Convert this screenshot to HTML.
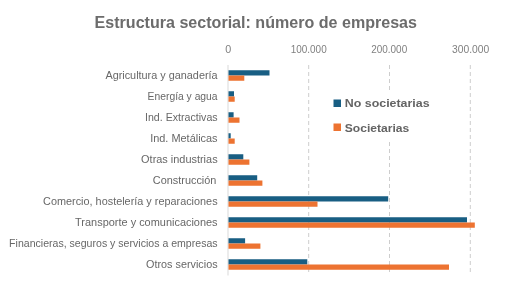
<!DOCTYPE html>
<html><head><meta charset="utf-8"><style>
html,body{margin:0;padding:0;background:#fff;}
body{width:513px;height:300px;overflow:hidden;}
svg{display:block;filter:blur(0.3px);}
text{font-family:"Liberation Sans",sans-serif;}
.cat{font-size:10.8px;fill:#676767;}
.ax{font-size:10.5px;fill:#808080;}
.leg{font-size:11.8px;font-weight:bold;fill:#646464;}
.title{font-size:15.6px;font-weight:bold;fill:#6c6c6c;}
</style></head><body>
<svg width="513" height="300" viewBox="0 0 513 300">
<line x1="308.7" y1="65.0" x2="308.7" y2="275" stroke="#cdcdcd" stroke-width="1" stroke-dasharray="4 3"/>
<line x1="389.5" y1="65.0" x2="389.5" y2="275" stroke="#cdcdcd" stroke-width="1" stroke-dasharray="4 3"/>
<line x1="470.3" y1="65.0" x2="470.3" y2="275" stroke="#cdcdcd" stroke-width="1" stroke-dasharray="4 3"/>
<line x1="228" y1="65.0" x2="228" y2="275.5" stroke="#d9d9d9" stroke-width="1"/>
<rect x="228.5" y="70.25" width="41.00" height="5.25" fill="#185e83"/>
<rect x="228.5" y="75.50" width="15.80" height="5.25" fill="#ed7331"/>
<text x="105.40" y="79.00" textLength="112.2" lengthAdjust="spacingAndGlyphs" class="cat">Agricultura y ganadería</text>
<rect x="228.5" y="91.25" width="5.50" height="5.25" fill="#185e83"/>
<rect x="228.5" y="96.50" width="6.20" height="5.25" fill="#ed7331"/>
<text x="147.60" y="100.00" textLength="70" lengthAdjust="spacingAndGlyphs" class="cat">Energía y agua</text>
<rect x="228.5" y="112.25" width="5.10" height="5.25" fill="#185e83"/>
<rect x="228.5" y="117.50" width="11.00" height="5.25" fill="#ed7331"/>
<text x="145.00" y="121.00" textLength="72.6" lengthAdjust="spacingAndGlyphs" class="cat">Ind. Extractivas</text>
<rect x="228.5" y="133.25" width="2.20" height="5.25" fill="#185e83"/>
<rect x="228.5" y="138.50" width="6.20" height="5.25" fill="#ed7331"/>
<text x="150.20" y="142.00" textLength="67.4" lengthAdjust="spacingAndGlyphs" class="cat">Ind. Metálicas</text>
<rect x="228.5" y="154.25" width="14.80" height="5.25" fill="#185e83"/>
<rect x="228.5" y="159.50" width="20.90" height="5.25" fill="#ed7331"/>
<text x="141.10" y="163.00" textLength="76.5" lengthAdjust="spacingAndGlyphs" class="cat">Otras industrias</text>
<rect x="228.5" y="175.25" width="28.70" height="5.25" fill="#185e83"/>
<rect x="228.5" y="180.50" width="33.90" height="5.25" fill="#ed7331"/>
<text x="152.80" y="184.00" textLength="63.6" lengthAdjust="spacingAndGlyphs" class="cat">Construcción</text>
<rect x="228.5" y="196.25" width="159.70" height="5.25" fill="#185e83"/>
<rect x="228.5" y="201.50" width="89.00" height="5.25" fill="#ed7331"/>
<text x="43.10" y="205.00" textLength="174.5" lengthAdjust="spacingAndGlyphs" class="cat">Comercio, hostelería y reparaciones</text>
<rect x="228.5" y="217.25" width="238.50" height="5.25" fill="#185e83"/>
<rect x="228.5" y="222.50" width="246.30" height="5.25" fill="#ed7331"/>
<text x="75.10" y="226.00" textLength="142.5" lengthAdjust="spacingAndGlyphs" class="cat">Transporte y comunicaciones</text>
<rect x="228.5" y="238.25" width="16.60" height="5.25" fill="#185e83"/>
<rect x="228.5" y="243.50" width="31.90" height="5.25" fill="#ed7331"/>
<text x="9.10" y="247.00" textLength="208.5" lengthAdjust="spacingAndGlyphs" class="cat">Financieras, seguros y servicios a empresas</text>
<rect x="228.5" y="259.25" width="78.80" height="5.25" fill="#185e83"/>
<rect x="228.5" y="264.50" width="220.50" height="5.25" fill="#ed7331"/>
<text x="146.10" y="268.00" textLength="71.5" lengthAdjust="spacingAndGlyphs" class="cat">Otros servicios</text>
<text x="225.30" y="53" textLength="6" lengthAdjust="spacingAndGlyphs" class="ax">0</text>
<text x="290.70" y="53" textLength="36" lengthAdjust="spacingAndGlyphs" class="ax">100.000</text>
<text x="371.20" y="53" textLength="36" lengthAdjust="spacingAndGlyphs" class="ax">200.000</text>
<text x="451.95" y="53" textLength="37.3" lengthAdjust="spacingAndGlyphs" class="ax">300.000</text>
<rect x="330" y="91" width="105" height="49" fill="#fff"/>
<rect x="333.5" y="99.5" width="7.5" height="7.5" fill="#185e83"/>
<rect x="333.5" y="123.5" width="7.5" height="7.5" fill="#ed7331"/>
<text x="344.8" y="107" textLength="84.8" lengthAdjust="spacingAndGlyphs" class="leg">No societarias</text>
<text x="344.8" y="131.6" textLength="64.5" lengthAdjust="spacingAndGlyphs" class="leg">Societarias</text>
<text x="94.6" y="27.9" textLength="322.4" lengthAdjust="spacingAndGlyphs" class="title">Estructura sectorial: número de empresas</text>
</svg>
</body></html>
